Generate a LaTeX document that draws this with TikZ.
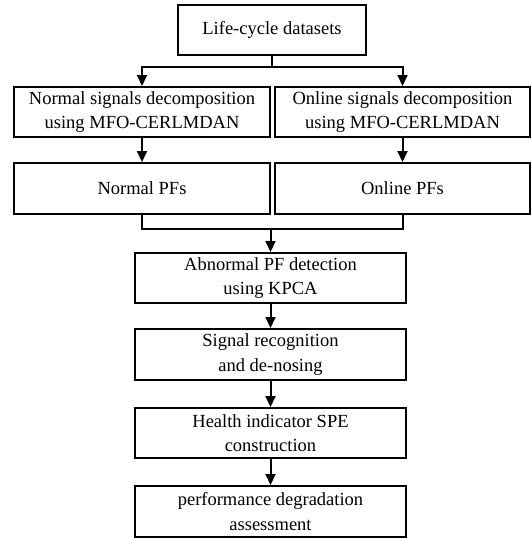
\documentclass[tikz,border=0pt]{standalone}
\usepackage{fontspec}
\setmainfont{Liberation Serif}
\usetikzlibrary{arrows.meta}
\begin{document}
\begin{tikzpicture}[x=1pt,y=-1pt,
  box/.style={draw,line width=2pt,align=center,inner sep=0pt,
    font=\fontsize{18.5}{24.5}\selectfont},
  conn/.style={line width=2pt},
  arr/.style={line width=2pt,-{Triangle[length=11pt,width=10pt]}}]
\useasboundingbox (0,0) rectangle (531,538);
\node[box,minimum width=188pt,minimum height=50pt] (life) at (272,30) {Life-cycle datasets};
\node[box,minimum width=256pt,minimum height=50pt] (nd) at (142,112) {Normal signals decomposition\\using MFO-CERLMDAN};
\node[box,minimum width=255pt,minimum height=50pt] (od) at (402.5,112) {Online signals decomposition\\using MFO-CERLMDAN};
\node[box,minimum width=256pt,minimum height=51pt] (np) at (142,188.5) {Normal PFs};
\node[box,minimum width=255pt,minimum height=51pt] (op) at (402.5,188.5) {Online PFs};
\node[box,minimum width=271pt,minimum height=50pt] (ab) at (270.5,278) {Abnormal PF detection\\using KPCA};
\node[box,minimum width=271pt,minimum height=51pt] (sr) at (270.5,354.5) {Signal recognition\\and de-nosing};
\node[box,minimum width=271pt,minimum height=50pt] (hi) at (270.5,433) {Health indicator SPE\\construction};
\node[box,minimum width=271pt,minimum height=51pt] (pd) at (270.5,511.5) {performance degradation\\assessment};
\coordinate (j1) at (272,67);
\coordinate (j2) at (270.5,229);
\draw[conn] (life.south) -- (j1);
\draw[arr] (j1) -| (nd.north);
\draw[arr] (j1) -| (od.north);
\draw[arr] (nd) -- (np);
\draw[arr] (od) -- (op);
\draw[conn] (np.south) |- (j2);
\draw[conn] (op.south) |- (j2);
\draw[arr] (j2) -- (ab.north);
\draw[arr] (ab) -- (sr);
\draw[arr] (sr) -- (hi);
\draw[arr] (hi) -- (pd);
\end{tikzpicture}
\end{document}
